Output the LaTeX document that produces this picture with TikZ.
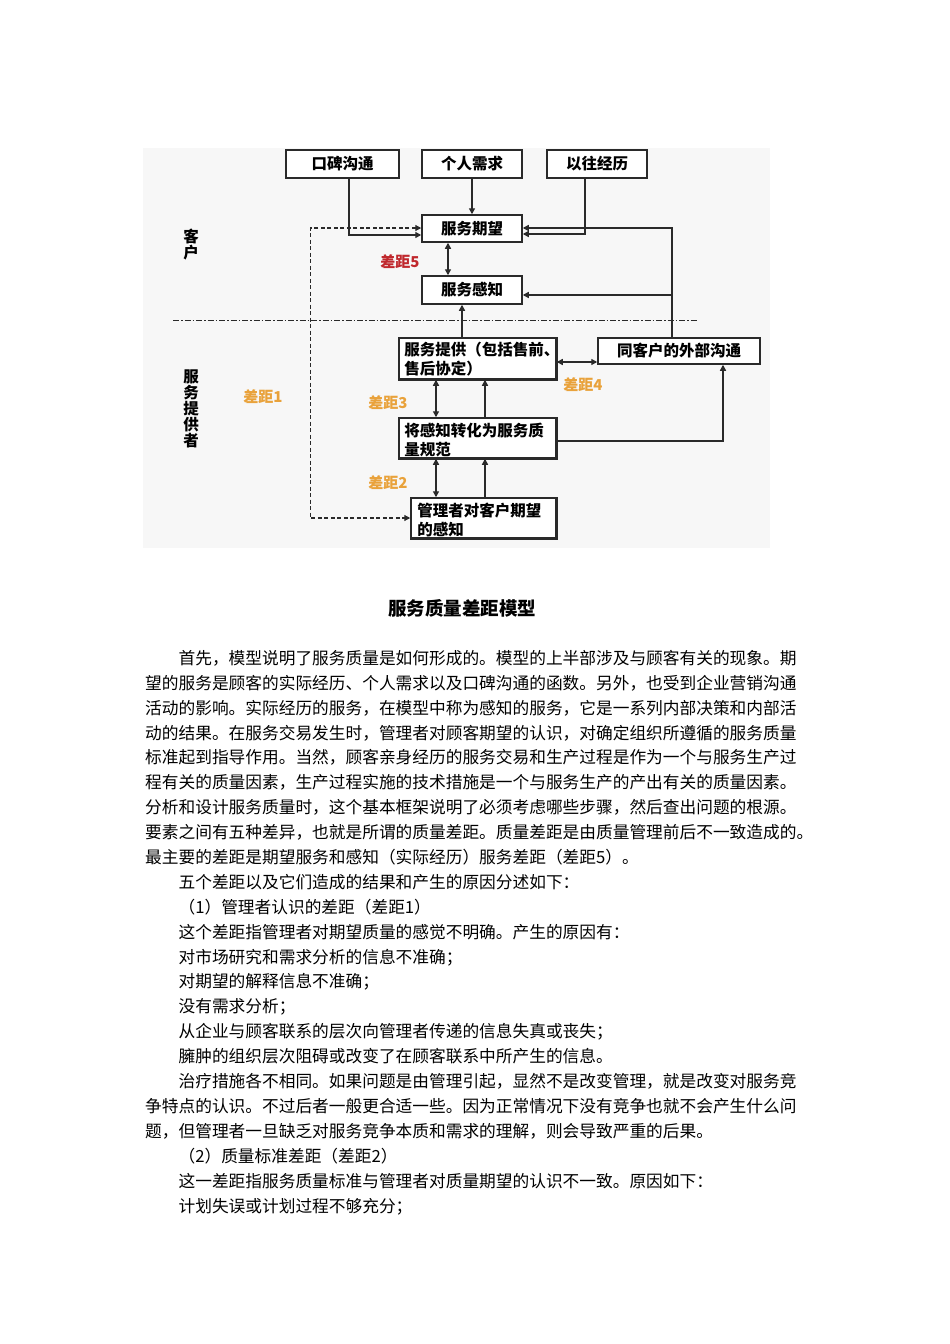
\documentclass[tikz,border=0pt]{standalone}
\usepackage{fontspec}
\setmainfont{Noto Sans CJK SC}
\usetikzlibrary{arrows.meta,positioning}
\definecolor{bggray}{HTML}{F7F7F7}
\definecolor{boxline}{HTML}{2A2A2A}
\definecolor{gapred}{HTML}{C0282D}
\definecolor{gaporange}{HTML}{E9A23B}
\tikzset{
  box/.style={draw=boxline, line width=1.5pt, fill=white, inner sep=0pt, align=center,
    font=\fontsize{15.5}{18}\selectfont\bfseries},
  boxtext/.style={anchor=north west, inner sep=0pt, align=left,
    font=\fontsize{15.5}{18.5}\selectfont\bfseries},
  conn/.style={draw=boxline, line width=1.4pt, -{Triangle[length=6pt,width=6pt]}},
  dconn/.style={draw=boxline, line width=1.4pt, {Triangle[length=6pt,width=6pt]}-{Triangle[length=6pt,width=6pt]}},
  dashconn/.style={draw=boxline, line width=1.2pt, dash pattern=on 4pt off 2.5pt,
    {Triangle[length=6pt,width=6pt]}-{Triangle[length=6pt,width=6pt]}},
  sepline/.style={draw=boxline, line width=1pt, dash pattern=on 6pt off 2pt on 1.5pt off 2pt},
  gaplabel/.style={inner sep=0pt, font=\fontsize{15}{15}\selectfont\bfseries},
  vlabel/.style={inner sep=0pt, align=center, font=\fontsize{15.5}{16}\selectfont\bfseries},
  body/.style={anchor=base west, inner sep=0pt, font=\fontsize{16.7}{20}\selectfont},
}
\begin{document}
\begin{tikzpicture}[x=1pt,y=-1pt]
\useasboundingbox (0,0) rectangle (950,1344);
\fill[white] (0,0) rectangle (950,1344);
\fill[bggray] (143,148) rectangle (770,548);

% separator
\coordinate (sepL) at (173,320);
\coordinate (sepR) at (698,320);
\draw[sepline] (sepL) -- (sepR);

% single-line boxes
\node[box, minimum width=113pt, minimum height=28pt] (kb) at (342.5,164) {口碑沟通};
\node[box, minimum width=100pt, minimum height=28pt] (gr) at (472,164) {个人需求};
\node[box, minimum width=100pt, minimum height=28pt] (yw) at (597,164) {以往经历};
\node[box, minimum width=100pt, minimum height=27pt] (qw) at (472,228.5) {服务期望};
\node[box, minimum width=100pt, minimum height=28pt] (gz) at (472,290) {服务感知};
\node[box, minimum width=162pt, minimum height=26pt] (wb) at (679,351) {同客户的外部沟通};

% two-line boxes (text drawn inside, border redrawn on top)
\node[box, minimum width=157pt, minimum height=41pt] (tg) at (477.5,358.5) {};
\node[boxtext] (tgt) at ([xshift=6pt,yshift=-5pt]tg.north west) {服务提供（包括售前、\\售后协定）};
\draw[boxline, line width=1.5pt] (tg.south west) rectangle (tg.north east);

\node[box, minimum width=157pt, minimum height=40pt] (zh) at (477.5,438) {};
\node[boxtext] (zht) at ([xshift=6pt,yshift=-6pt]zh.north west) {将感知转化为服务质\\量规范};
\draw[boxline, line width=1.5pt] (zh.south west) rectangle (zh.north east);

\node[box, minimum width=145pt, minimum height=40pt] (gl) at (483.5,518) {};
\node[boxtext] (glt) at ([xshift=7pt,yshift=-6pt]gl.north west) {管理者对客户期望\\的感知};
\draw[boxline, line width=1.5pt] (gl.south west) rectangle (gl.north east);

% connectors
\draw[conn] ([xshift=6.5pt]kb.south) |- ([yshift=-6.5pt]qw.west);
\draw[conn] (gr.south) -- (qw.north);
\draw[conn] ([xshift=-12pt]yw.south) |- ([yshift=-5.5pt]qw.east);
\draw[conn] ([xshift=-7pt]wb.north) |- ([yshift=0.5pt]qw.east);
\draw[conn] ([xshift=-7pt]wb.north) |- ([yshift=-5pt]gz.east);
\draw[dconn] ([xshift=-24pt]qw.south) -- ([xshift=-24pt]gz.north);
\draw[conn] ([xshift=-15.5pt]tg.north) -- ([xshift=-15.5pt]tg.north |- gz.south);
\draw[dconn] ([yshift=-3.5pt]tg.east) -- ([yshift=-3.5pt]tg.east -| wb.west);
\draw[dconn] ([xshift=-41.5pt]tg.south) -- ([xshift=-41.5pt]zh.north);
\draw[conn] ([xshift=7.5pt]zh.north) -- ([xshift=7.5pt]tg.south);
\draw[conn] ([yshift=-3pt]zh.east) -| ([xshift=44pt]wb.south);
\draw[dconn] ([xshift=-41.5pt]zh.south) -- ([xshift=-41.5pt]zh.south |- gl.north);
\draw[conn] ([xshift=7.5pt]zh.south |- gl.north) -- ([xshift=7.5pt]zh.south);
\draw[dashconn] ([yshift=0.5pt]qw.west) -- ++(-111,0) |- (gl.west);

% side labels
\node[vlabel] (kh) at (191,245) {客\\户};
\node[vlabel] (fwt) at (191,409) {服\\务\\提\\供\\者};

% gap labels
\node[gaplabel, text=gapred] (g5) at (400,262) {差距5};
\node[gaplabel, text=gaporange] (g1) at (263,397) {差距1};
\node[gaplabel, text=gaporange] (g3) at (388,403) {差距3};
\node[gaplabel, text=gaporange] (g2) at (388,483) {差距2};
\node[gaplabel, text=gaporange] (g4) at (583,385) {差距4};

% title
\node[inner sep=0pt, font=\fontsize{18.5}{20}\selectfont\bfseries] (title) at (462,608) {服务质量差距模型};

% body text
\node[body] (t1) at (178.4,664.3) {首先，模型说明了服务质量是如何形成的。模型的上半部涉及与顾客有关的现象。期};
\node[body] (t2) at (145,689.3) {望的服务是顾客的实际经历、个人需求以及口碑沟通的函数。另外，也受到企业营销沟通};
\node[body] (t3) at (145,714.3) {活动的影响。实际经历的服务，在模型中称为感知的服务，它是一系列内部决策和内部活};
\node[body] (t4) at (145,739.3) {动的结果。在服务交易发生时，管理者对顾客期望的认识，对确定组织所遵循的服务质量};
\node[body] (t5) at (145,763.3) {标准起到指导作用。当然，顾客亲身经历的服务交易和生产过程是作为一个与服务生产过};
\node[body] (t6) at (145,788.3) {程有关的质量因素，生产过程实施的技术措施是一个与服务生产的产出有关的质量因素。};
\node[body] (t7) at (145,813.3) {分析和设计服务质量时，这个基本框架说明了必须考虑哪些步骤，然后查出问题的根源。};
\node[body] (t8) at (145,838.3) {要素之间有五种差异，也就是所谓的质量差距。质量差距是由质量管理前后不一致造成的。};
\node[body] (t9) at (145,863.3) {最主要的差距是期望服务和感知（实际经历）服务差距（差距5）。};
\node[body] (t10) at (178.4,888.3) {五个差距以及它们造成的结果和产生的原因分述如下：};
\node[body] (t11) at (178.4,913.3) {（1）管理者认识的差距（差距1）};
\node[body] (t12) at (178.4,938.3) {这个差距指管理者对期望质量的感觉不明确。产生的原因有：};
\node[body] (t13) at (178.4,963.3) {对市场研究和需求分析的信息不准确；};
\node[body] (t14) at (178.4,987.3) {对期望的解释信息不准确；};
\node[body] (t15) at (178.4,1012.3) {没有需求分析；};
\node[body] (t16) at (178.4,1037.3) {从企业与顾客联系的层次向管理者传递的信息失真或丧失；};
\node[body] (t17) at (178.4,1062.3) {臃肿的组织层次阻碍或改变了在顾客联系中所产生的信息。};
\node[body] (t18) at (178.4,1087.3) {治疗措施各不相同。如果问题是由管理引起，显然不是改变管理，就是改变对服务竞};
\node[body] (t19) at (145,1112.3) {争特点的认识。不过后者一般更合适一些。因为正常情况下没有竞争也就不会产生什么问};
\node[body] (t20) at (145,1137.3) {题，但管理者一旦缺乏对服务竞争本质和需求的理解，则会导致严重的后果。};
\node[body] (t21) at (178.4,1162.3) {（2）质量标准差距（差距2）};
\node[body] (t22) at (178.4,1187.3) {这一差距指服务质量标准与管理者对质量期望的认识不一致。原因如下：};
\node[body] (t23) at (178.4,1212.3) {计划失误或计划过程不够充分；};
\end{tikzpicture}
\end{document}
